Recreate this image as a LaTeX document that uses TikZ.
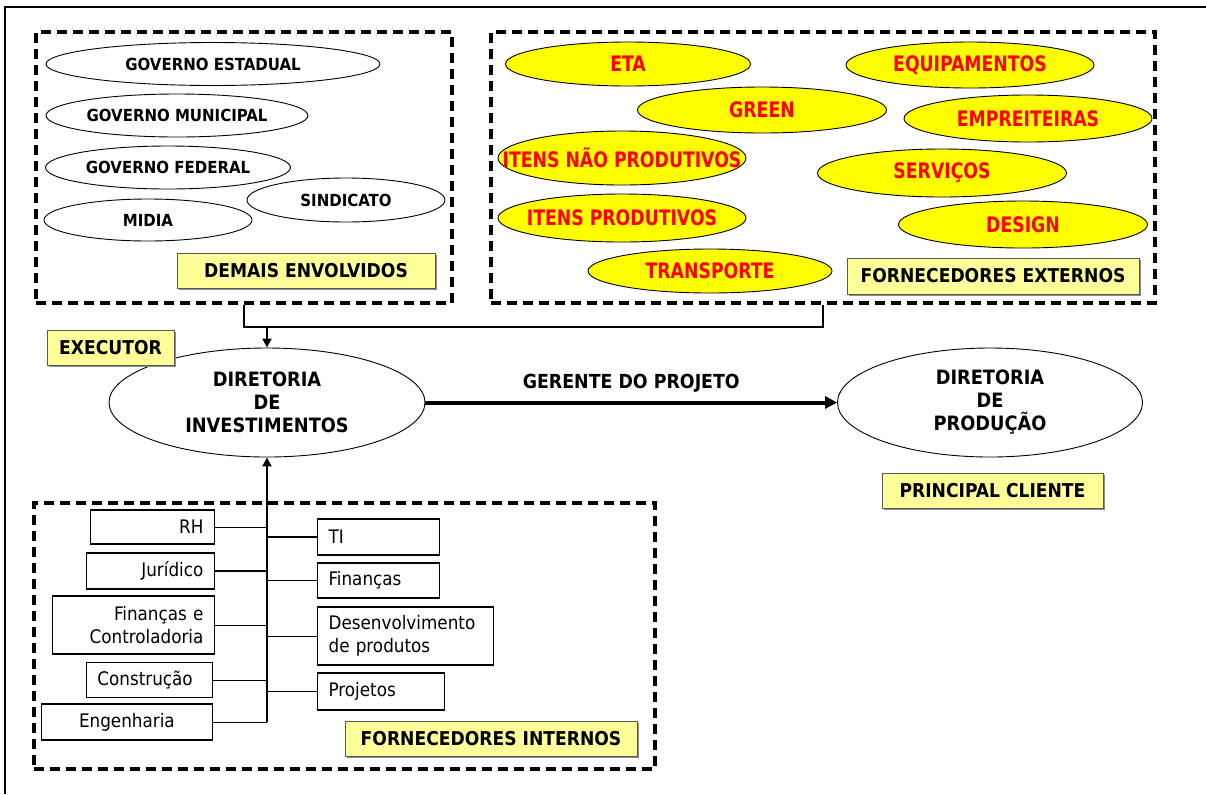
\documentclass[tikz,border=0pt]{standalone}
\usepackage{fontspec}
\setmainfont{DejaVu Sans Condensed}
\usetikzlibrary{shapes.geometric,arrows.meta,shadows}

\newlength{\unitpx}
\setlength{\unitpx}{0.75pt}
\newcommand{\nowidth}[1]{\makebox[0pt]{#1}}
\newcommand{\narrow}[1]{\makebox[0pt]{\scalebox{0.9}[1]{#1}}}

\definecolor{tagyellow}{HTML}{FFFF99}
\definecolor{ovalyellow}{HTML}{FFFF00}

\tikzset{
  group/.style={draw, line width=3.2\unitpx, dash pattern=on 10\unitpx off 6\unitpx},
  oval/.style={ellipse, draw, line width=0.9\unitpx, inner sep=0pt,
    font=\bfseries\fontsize{12.5}{14}\selectfont},
  supplier/.style={oval, fill=ovalyellow, text=red,
    font=\bfseries\fontsize{16}{18}\selectfont},
  tag/.style={draw=black!65, fill=tagyellow, line width=1\unitpx, inner sep=0pt,
    font=\bfseries\fontsize{14.3}{16}\selectfont,
    drop shadow={shadow xshift=1.5\unitpx, shadow yshift=-1.5\unitpx, fill=black!45, opacity=1}},
  director/.style={ellipse, draw, line width=0.9\unitpx, inner sep=0pt, align=center,
    font=\bfseries\fontsize{14.8}{17.25}\selectfont},
  unit/.style={draw, line width=1.2\unitpx, inner xsep=11\unitpx, inner ysep=0pt,
    font=\fontsize{14}{17}\selectfont},
  bus/.style={line width=2\unitpx},
  branch/.style={line width=1\unitpx},
  tip/.style={-{Triangle[length=6.75pt, width=6.75pt]}},
}

\begin{document}
\begin{tikzpicture}[x=\unitpx, y=-\unitpx]
\useasboundingbox (0,0) rectangle (1206,794);
% page frame
\draw[line width=1.3\unitpx] (1206,7) -- (5,7) -- (5,794);

% groups
\node[group, minimum width=416\unitpx, minimum height=271\unitpx] (demais) at (244,167.5) {};
\node[group, minimum width=664\unitpx, minimum height=271\unitpx] (externos) at (823,167.5) {};
\node[group, minimum width=621\unitpx, minimum height=266\unitpx] (internos) at (344.5,636) {};

% demais envolvidos
\node[oval, minimum width=334\unitpx, minimum height=43\unitpx] (estadual) at (213,64) {\nowidth{GOVERNO ESTADUAL}};
\node[oval, minimum width=262\unitpx, minimum height=43\unitpx] (municipal) at (177,115.5) {\nowidth{GOVERNO MUNICIPAL}};
\node[oval, minimum width=245\unitpx, minimum height=43\unitpx] (federal) at (168,167.5) {\nowidth{GOVERNO FEDERAL}};
\node[oval, minimum width=208\unitpx, minimum height=42\unitpx] (midia) at (148,220) {\nowidth{MIDIA}};
\node[oval, minimum width=198\unitpx, minimum height=44\unitpx] (sindicato) at (346,200) {\nowidth{SINDICATO}};
\node[tag, minimum width=258\unitpx, minimum height=35\unitpx] (tagdemais) at (306,270.5) {DEMAIS ENVOLVIDOS};

% fornecedores externos
\node[supplier, minimum width=245\unitpx, minimum height=44\unitpx] (eta) at (628,64) {\narrow{ETA}};
\node[supplier, minimum width=248\unitpx, minimum height=46\unitpx] (equip) at (970,65) {\narrow{EQUIPAMENTOS}};
\node[supplier, minimum width=249\unitpx, minimum height=46\unitpx] (green) at (762,110) {\narrow{GREEN}};
\node[supplier, minimum width=248\unitpx, minimum height=47\unitpx] (empreit) at (1028,118.5) {\narrow{EMPREITEIRAS}};
\node[supplier, minimum width=248\unitpx, minimum height=54\unitpx] (naoprod) at (622,158) {\narrow{ITENS NÃO PRODUTIVOS}};
\node[supplier, minimum width=249\unitpx, minimum height=48\unitpx] (servicos) at (942,173) {\narrow{SERVIÇOS}};
\node[supplier, minimum width=248\unitpx, minimum height=48\unitpx] (produtivos) at (622,218) {\narrow{ITENS PRODUTIVOS}};
\node[supplier, minimum width=249\unitpx, minimum height=47\unitpx] (design) at (1023,224.5) {\narrow{DESIGN}};
\node[supplier, minimum width=244\unitpx, minimum height=44\unitpx] (transp) at (710,271) {\narrow{TRANSPORTE}};
\node[tag, minimum width=292\unitpx, minimum height=36\unitpx] (tagexternos) at (993,276) {FORNECEDORES EXTERNOS};

% diretorias
\node[director, minimum width=316\unitpx, minimum height=109\unitpx] (invest) at (267,402.5) {DIRETORIA\\DE\\INVESTIMENTOS};
\node[director, minimum width=305\unitpx, minimum height=109\unitpx] (producao) at (990,402.5) {DIRETORIA\\DE\\PRODUÇÃO};
\node[tag, minimum width=127\unitpx, minimum height=35\unitpx] (tagexec) at (110.5,347.5) {EXECUTOR};
\node[tag, minimum width=221\unitpx, minimum height=35\unitpx] (tagcliente) at (992.5,490.5) {PRINCIPAL CLIENTE};

% fornecedores internos, lado esquerdo
\node[unit, anchor=east, text width=102\unitpx, minimum height=34\unitpx, align=right] (rh) at (215,527) {RH};
\node[unit, anchor=east, text width=106\unitpx, minimum height=36\unitpx, align=right] (juridico) at (215,571) {Jurídico};
\node[unit, anchor=east, text width=140\unitpx, minimum height=58\unitpx, align=right] (controladoria) at (215,625) {Finanças e\\Controladoria};
\node[unit, anchor=east, text width=104\unitpx, minimum height=35\unitpx, align=left] (construcao) at (213,680) {Construção};
\node[unit, anchor=east, text width=149\unitpx, minimum height=36\unitpx, align=center] (engenharia) at (213,722) {Engenharia};
% lado direito
\node[unit, anchor=west, text width=100\unitpx, minimum height=36\unitpx, align=left] (ti) at (317,537) {TI};
\node[unit, anchor=west, text width=100\unitpx, minimum height=35\unitpx, align=left] (financas) at (317,580.5) {Finanças};
\node[unit, anchor=west, text width=154\unitpx, minimum height=58\unitpx, align=left] (desenv) at (317,636) {Desenvolvimento\\de produtos};
\node[unit, anchor=west, text width=105\unitpx, minimum height=37\unitpx, align=left] (projetos) at (317,691.5) {Projetos};
\node[tag, minimum width=292\unitpx, minimum height=35\unitpx] (taginternos) at (491,738.5) {FORNECEDORES INTERNOS};

% ligacoes de cima
\path (demais.south) ++(0,22) coordinate (barra);
\draw[bus] (demais.south) -- (barra) -| (externos.south);
\draw[bus, tip] (invest.north |- barra) -- (invest.north);

% tronco de baixo
\draw[bus, tip] (invest.south |- engenharia.east) -- (invest.south);
\draw[branch] (rh.east) -- (rh.east -| invest.south);
\draw[bus] (juridico.east) -- (juridico.east -| invest.south);
\draw[branch] (controladoria.east) -- (controladoria.east -| invest.south);
\draw[branch] (construcao.east) -- (construcao.east -| invest.south);
\draw[branch] (engenharia.east) -- (engenharia.east -| invest.south);
\draw[bus] (ti.west) -- (ti.west -| invest.south);
\draw[branch] (financas.west) -- (financas.west -| invest.south);
\draw[branch] (desenv.west) -- (desenv.west -| invest.south);
\draw[branch] (projetos.west) -- (projetos.west -| invest.south);

% gerente do projeto
\draw[line width=4\unitpx, -{Triangle[length=9pt, width=9pt]}] (invest.east) -- (producao.west)
  node[midway, above=4\unitpx, font=\bfseries\fontsize{14.5}{16}\selectfont] (gerente) {GERENTE DO PROJETO};
\end{tikzpicture}
\end{document}
